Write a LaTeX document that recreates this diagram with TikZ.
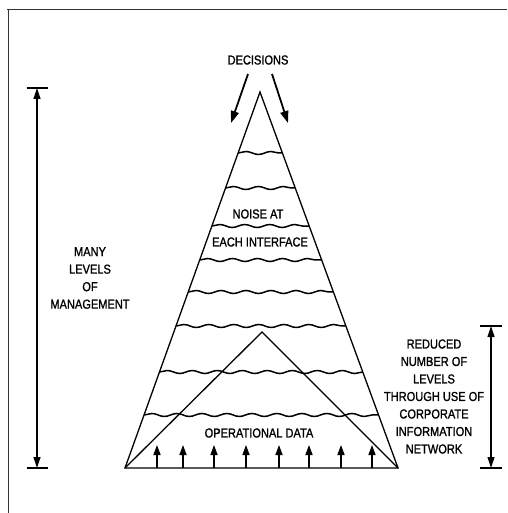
\documentclass[tikz,border=0pt]{standalone}
\usepackage{fontspec}
\setmainfont{Liberation Sans}[FakeStretch=0.85,FakeBold=1.2]
\usetikzlibrary{arrows.meta,calc,decorations.pathmorphing}

\newcommand{\diaglabel}{\fontsize{13}{17.5}\selectfont}

\tikzset{
  frameline/.style={line width=1.8pt, draw=black!80},
  edge/.style={line width=1.3pt, line join=miter},
  wave/.style={line width=1.5pt, decorate,
    decoration={snake, segment length=25pt, amplitude=1.5pt}},
  decarrow/.style={line width=1.8pt, -{Triangle[length=12pt,width=8pt]}},
  uparrow/.style={line width=1.5pt, -{Triangle[length=10pt,width=7pt]}},
  dimline/.style={line width=1.2pt, {Triangle[length=11pt,width=7pt]}-{Triangle[length=11pt,width=7pt]}},
  dimbar/.style={line width=1.5pt},
  txt/.style={inner sep=0pt, font=\diaglabel, align=center}
}

\begin{document}
\begin{tikzpicture}[x=1pt,y=-1pt]
\useasboundingbox (0,0) rectangle (507,513);
\fill[white] (0,0) rectangle (507,513);

% page frame (top and left rules)
\draw[frameline] (7,9.5) -- (507,9.5);
\draw[frameline] (8.5,9) -- (8.5,513);

% the management pyramid
\coordinate (apex) at (260,92);
\coordinate (bl) at (125,468);
\coordinate (br) at (398,468);
\draw[edge] (bl) -- (apex) -- (br) -- cycle;

% the flatter pyramid of the information network
\coordinate (sapex) at (262,332);
\draw[edge] (bl) -- (sapex) -- (br);

% noisy interfaces between the levels
\foreach \t in {0.1622,0.2553,0.3564,0.4468,0.5319,0.6223,0.7447,0.8590}
  \draw[wave] ($(apex)!\t!(bl)$) -- ($(apex)!\t!(br)$);

% labels
\node[txt] (decisions) at (258,60) {DECISIONS};
\node[txt] (noise1) at (258,214) {NOISE AT};
\node[txt] (noise2) at (260,242) {EACH INTERFACE};
\node[txt] (opdata) at (259,433) {OPERATIONAL DATA};
\node[txt] (many) at (90,278) {MANY\\LEVELS\\OF\\MANAGEMENT};
\node[txt] (reduced) at (434,396.5) {REDUCED\\NUMBER OF\\LEVELS\\THROUGH USE OF\\CORPORATE\\INFORMATION\\NETWORK};

% decisions flowing down
\coordinate (dl0) at (248,74);
\coordinate (dl1) at (231,123);
\coordinate (dr0) at (272,74);
\coordinate (dr1) at (288,123);
\draw[decarrow] (dl0) -- (dl1);
\draw[decarrow] (dr0) -- (dr1);

% operational data flowing up
\foreach \x in {157,183,214,246,279,309,341,372}
  \draw[uparrow] (\x,468) -- (\x,445);

% dimension: many levels
\coordinate (ltop) at (37,88);
\coordinate (lbot) at (37,468);
\draw[dimbar] ($(ltop)+(-10.5,0)$) -- ($(ltop)+(10.5,0)$);
\draw[dimbar] ($(lbot)+(-10.5,0)$) -- ($(lbot)+(10.5,0)$);
\draw[dimline] (ltop) -- (lbot);

% dimension: reduced levels
\coordinate (rtop) at (491,326);
\coordinate (rbot) at (491,468);
\draw[dimbar] ($(rtop)+(-11,0)$) -- ($(rtop)+(11,0)$);
\draw[dimbar] ($(rbot)+(-11,0)$) -- ($(rbot)+(11,0)$);
\draw[dimline] (rtop) -- (rbot);
\end{tikzpicture}
\end{document}
